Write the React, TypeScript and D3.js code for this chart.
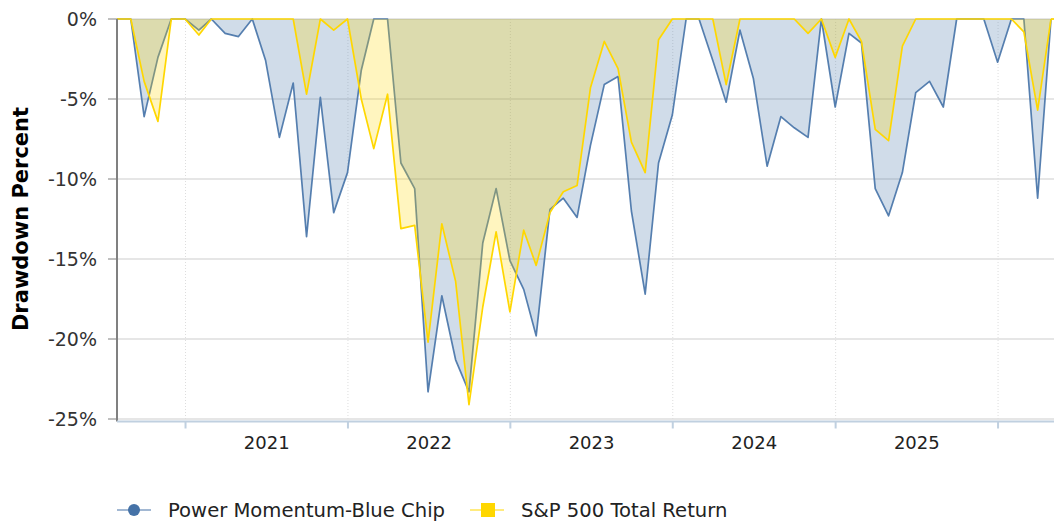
import React from 'react'
import * as d3 from 'd3'

// month-end observations, Jul 2020 .. Apr 2026
const months = [
  '2020-07', '2020-08', '2020-09', '2020-10', '2020-11', '2020-12',
  '2021-01', '2021-02', '2021-03', '2021-04', '2021-05', '2021-06',
  '2021-07', '2021-08', '2021-09', '2021-10', '2021-11', '2021-12',
  '2022-01', '2022-02', '2022-03', '2022-04', '2022-05', '2022-06',
  '2022-07', '2022-08', '2022-09', '2022-10', '2022-11', '2022-12',
  '2023-01', '2023-02', '2023-03', '2023-04', '2023-05', '2023-06',
  '2023-07', '2023-08', '2023-09', '2023-10', '2023-11', '2023-12',
  '2024-01', '2024-02', '2024-03', '2024-04', '2024-05', '2024-06',
  '2024-07', '2024-08', '2024-09', '2024-10', '2024-11', '2024-12',
  '2025-01', '2025-02', '2025-03', '2025-04', '2025-05', '2025-06',
  '2025-07', '2025-08', '2025-09', '2025-10', '2025-11', '2025-12',
  '2026-01', '2026-02', '2026-03', '2026-04'
]

const powerMomentum = [
  0, 0, -6.1, -2.4, 0, 0,
  -0.7, 0, -0.9, -1.1, 0, -2.6,
  -7.4, -4.0, -13.6, -4.9, -12.1, -9.6,
  -3.2, 0, 0, -9.0, -10.6, -23.3,
  -17.3, -21.3, -23.3, -14.0, -10.6, -15.1,
  -16.9, -19.8, -11.9, -11.2, -12.4, -7.9,
  -4.1, -3.6, -12.0, -17.2, -9.0, -6.0,
  0, 0, -2.6, -5.2, -0.7, -3.7,
  -9.2, -6.1, -6.8, -7.4, 0, -5.5,
  -0.9, -1.5, -10.6, -12.3, -9.6, -4.6,
  -3.9, -5.5, 0, 0, 0, -2.7,
  0, 0, -11.2, 0
]

const sp500 = [
  0, 0, -3.9, -6.4, 0, 0,
  -1.0, 0, 0, 0, 0, 0,
  0, 0, -4.7, 0, -0.7, 0,
  -5.0, -8.1, -4.7, -13.1, -12.9, -20.2,
  -12.8, -16.4, -24.1, -18.0, -13.3, -18.3,
  -13.2, -15.4, -12.1, -10.8, -10.4, -4.3,
  -1.4, -3.1, -7.7, -9.6, -1.3, 0,
  0, 0, 0, -4.1, 0, 0,
  0, 0, 0, -0.9, 0, -2.4,
  0, -1.4, -6.9, -7.6, -1.7, 0,
  0, 0, 0, 0, 0, 0,
  0, -0.8, -5.7, 0
]

const yTicks = [0, -5, -10, -15, -20, -25]
const yearLabels = ['2021', '2022', '2023', '2024', '2025']

const seriesNames = ['Power Momentum-Blue Chip', 'S&P 500 Total Return']
const blue = '#4572A7'
const gold = '#FFD700'

const W = 1054
const H = 525
const FONT = '"DejaVu Sans", Verdana, sans-serif'

const parseMonth = d3.timeParse('%Y-%m')
const monthEnd = (s: string) => d3.timeDay.offset(d3.timeMonth.offset(parseMonth(s) as Date, 1), -1)

export default function App () {
  const dates = months.map(monthEnd)
  const x = d3.scaleTime()
    .domain([dates[0], dates[dates.length - 1]])
    .range([117, 1051])
  const y = d3.scaleLinear().domain([-25, 0]).range([419, 19])

  const left = 117
  const right = W
  const bottom = 421.5

  const area = d3.area<number>()
    .x((d, i) => x(dates[i]))
    .y0(y(0))
    .y1(d => y(d))
  const line = d3.line<number>()
    .x((d, i) => x(dates[i]))
    .y(d => y(d))

  const yearTicks = d3.timeYear.range(d3.timeYear.ceil(dates[0]), dates[dates.length - 1])

  return (
    <div style={{ position: 'fixed', left: 0, top: 0 }}>
      <svg width={W} height={H} style={{ display: 'block', fontFamily: FONT }}>
        <rect width={W} height={H} fill='#fff' />

        {/* horizontal grid */}
        {yTicks.map(t => (
          <line key={'g' + t} x1={left} x2={right} y1={y(t)} y2={y(t)} stroke='#e6e6e6' strokeWidth={2} />
        ))}
        {/* vertical dotted year grid */}
        {yearTicks.map(d => (
          <line key={'v' + d.getFullYear()} x1={x(d)} x2={x(d)} y1={19} y2={bottom}
            stroke='#dddddd' strokeWidth={1} strokeDasharray='1,2' />
        ))}

        {/* series */}
        <path d={area(powerMomentum) || ''} fill={blue} fillOpacity={0.25} />
        <path d={line(powerMomentum) || ''} fill='none' stroke={blue} strokeWidth={1.7} strokeOpacity={0.9} strokeLinejoin='round' />
        <path d={area(sp500) || ''} fill={gold} fillOpacity={0.25} />
        <path d={line(sp500) || ''} fill='none' stroke={gold} strokeWidth={1.7} strokeLinejoin='round' />
        <line x1={1051} x2={right} y1={y(0)} y2={y(0)} stroke={gold} strokeWidth={1.7} />

        {/* y axis */}
        <line x1={left} x2={left} y1={19} y2={bottom} stroke='#808080' strokeWidth={2} />
        {yTicks.map(t => (
          <g key={'t' + t}>
            <line x1={108} x2={left} y1={y(t)} y2={y(t)} stroke='#808080' strokeWidth={1} />
            <text x={97} y={y(t)} dy='0.35em' textAnchor='end' fontSize={19} fill='#333'>{t + '%'}</text>
          </g>
        ))}
        <text transform={`translate(28,${y(-12.5)}) rotate(-90)`} textAnchor='middle'
          fontSize={21} fontWeight='bold' fill='#000'>Drawdown Percent</text>

        {/* x axis */}
        <line x1={left} x2={right} y1={bottom} y2={bottom} stroke='#C0D0E0' strokeWidth={2} />
        {yearTicks.map(d => (
          <line key={'xt' + d.getFullYear()} x1={x(d)} x2={x(d)} y1={bottom} y2={bottom + 7}
            stroke='#C0D0E0' strokeWidth={2} />
        ))}
        {yearLabels.map((lbl, i) => (
          <text key={lbl} x={(x(yearTicks[i]) + x(yearTicks[i + 1])) / 2} y={449}
            textAnchor='middle' fontSize={18} fill='#222'>{lbl}</text>
        ))}

        {/* legend */}
        <g>
          <line x1={117} x2={151} y1={510} y2={510} stroke={blue} strokeOpacity={0.5} strokeWidth={2} />
          <circle cx={134} cy={510} r={6} fill={blue} />
          <text x={168} y={517} fontSize={19.6} fill='#222'>{seriesNames[0]}</text>
          <line x1={470} x2={504} y1={510} y2={510} stroke={gold} strokeOpacity={0.5} strokeWidth={2} />
          <rect x={481} y={503} width={14} height={14} fill={gold} />
          <text x={521} y={517} fontSize={19.6} fill='#222'>{seriesNames[1]}</text>
        </g>
      </svg>
    </div>
  )
}
